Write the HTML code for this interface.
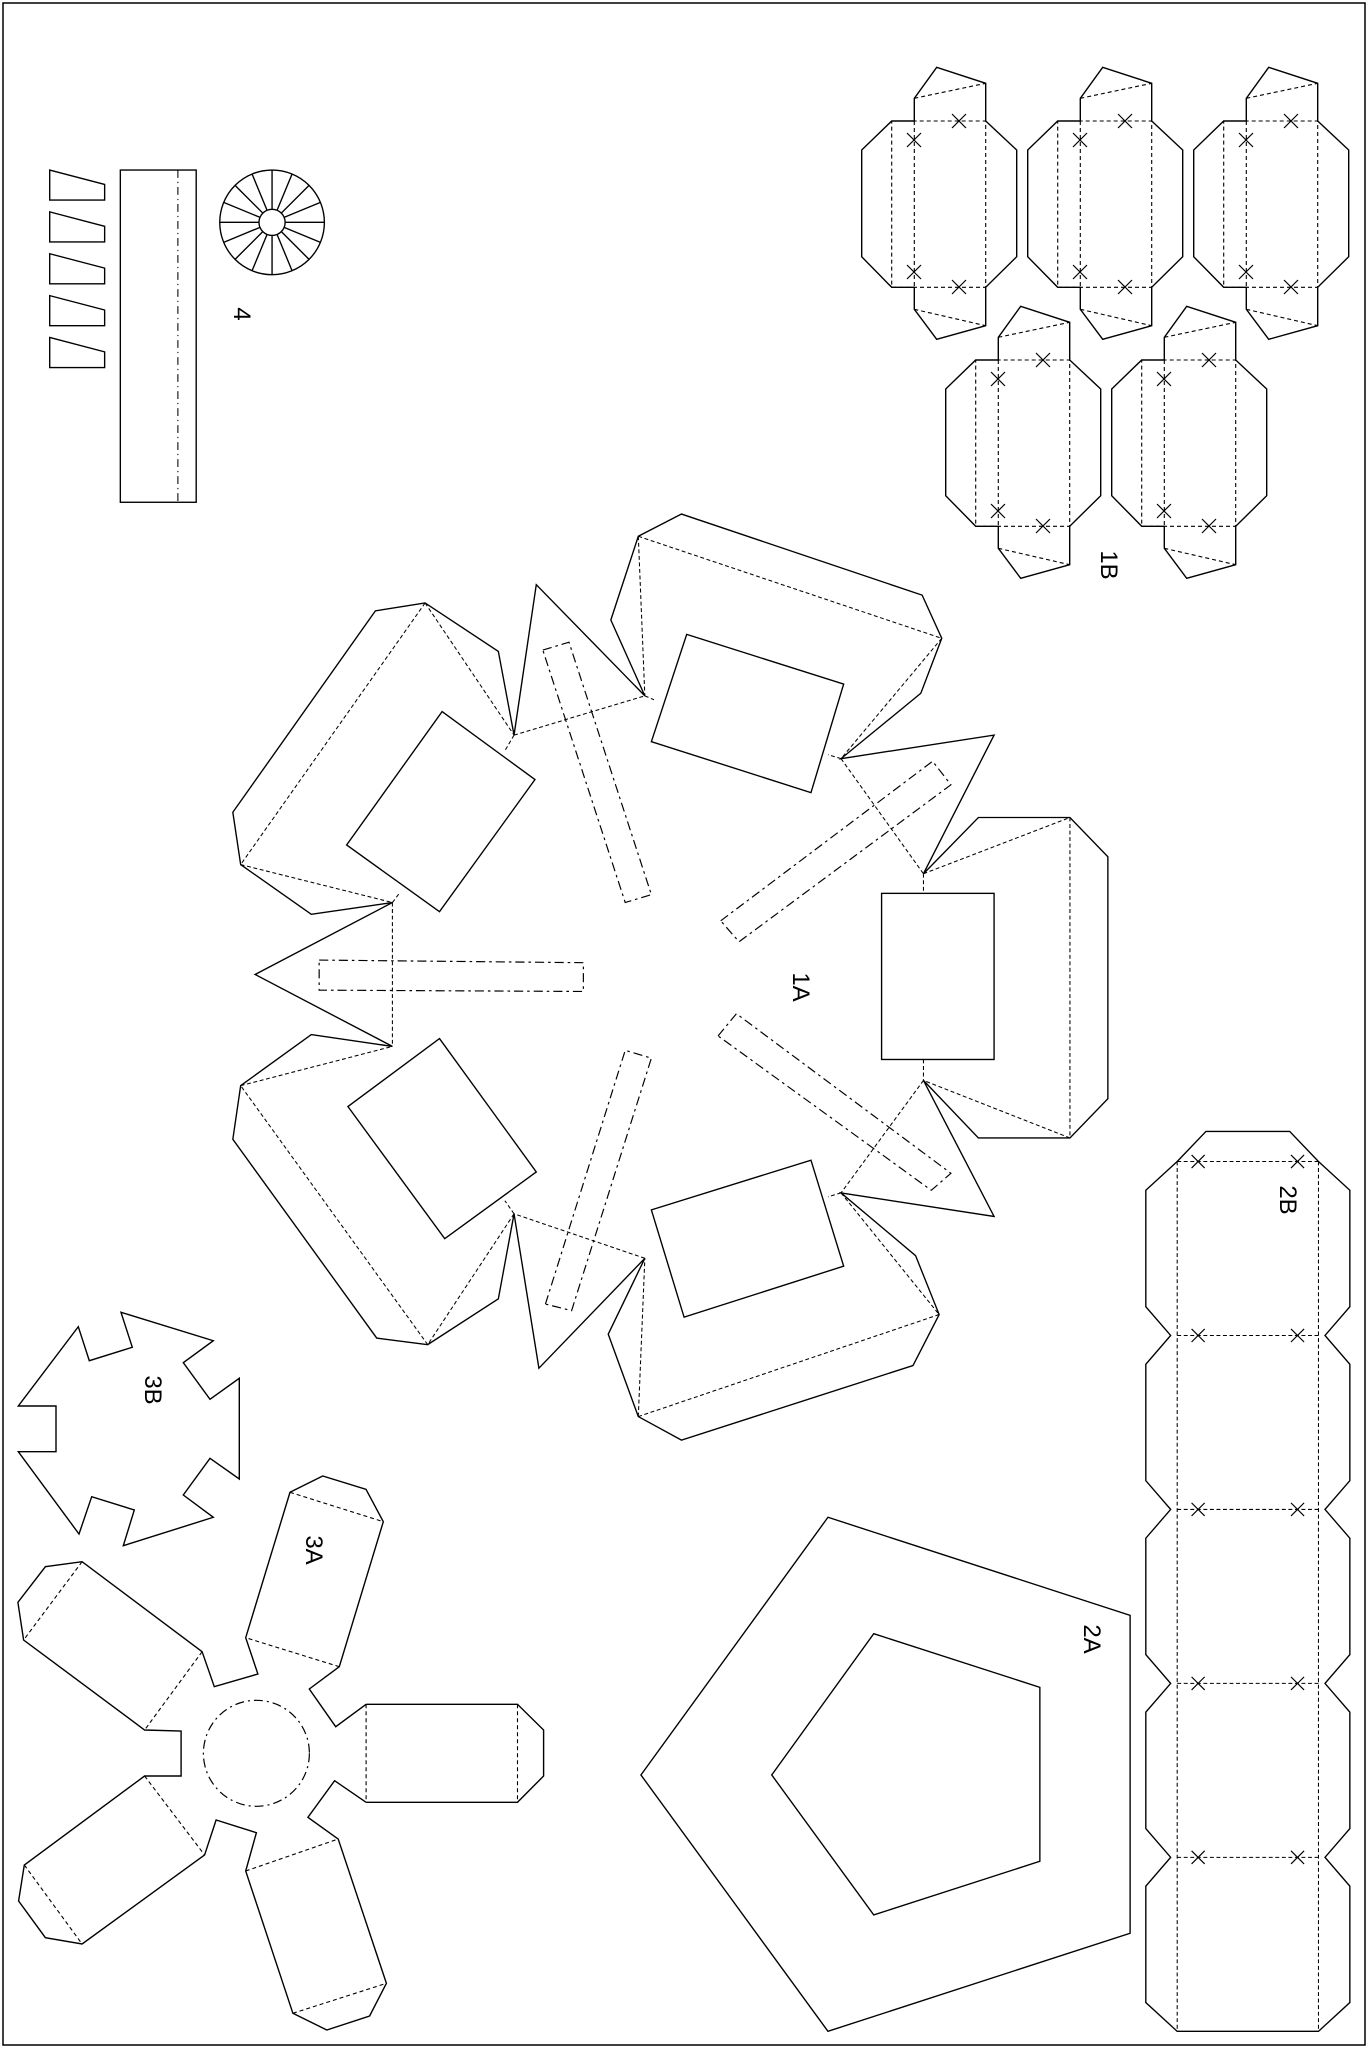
<!DOCTYPE html>
<html><head><meta charset="utf-8"><style>html,body{margin:0;padding:0;background:#fff}svg{display:block}</style></head>
<body>
<svg xmlns="http://www.w3.org/2000/svg" width="1368" height="2048" viewBox="0 0 1368 2048">
<defs>
<g id="b1" fill="none" stroke="#000">
<polygon stroke-width="1.4" points="914.3,121 914.3,98.3 936.7,67.3 985.7,83.3 985.7,121 1016.7,150 1016.7,256.7 985.7,287.3 985.7,325.7 936.7,339.3 914.3,309.3 914.3,287.3 891.7,287.3 861.7,256.7 861.7,150 891.7,121"/>
<g stroke-width="1.1" stroke-dasharray="4,3">
<rect x="891.7" y="121" width="94" height="166.3"/>
<line x1="914.3" y1="121" x2="914.3" y2="287.3"/>
<line x1="914.3" y1="98.3" x2="985.7" y2="83.3"/>
<line x1="914.3" y1="309.3" x2="985.7" y2="325.7"/>
</g>
<g stroke-width="1.2">
<path d="M907,133l14,14M921,133l-14,14M952,114l14,14M966,114l-14,14M907,265l14,14M921,265l-14,14M952,280l14,14M966,280l-14,14"/>
</g>
</g>
</defs>
<rect x="3" y="3" width="1362" height="2042" fill="none" stroke="#000" stroke-width="1.5"/>

<!-- 1B -->
<use href="#b1"/>
<use href="#b1" transform="translate(166,0)"/>
<use href="#b1" transform="translate(332,0)"/>
<use href="#b1" transform="translate(84,239)"/>
<use href="#b1" transform="translate(250,239)"/>

<!-- 3B -->
<polygon fill="none" stroke="#000" stroke-width="1.4" points="121,1312.3 213.3,1340.7 183.3,1362.7 210,1399.3 239.3,1378.3 239.3,1479 210,1458.3 183.3,1495 213.3,1517.3 123.3,1545.7 134.3,1510 91.7,1496.7 79,1534 18.3,1451.7 56,1451.7 56,1406 18.3,1406 78.3,1326.7 89.3,1360.7 132.3,1347.3"/>

<!-- 3A -->
<g fill="none" stroke="#000" stroke-width="1.4">
<polyline points="366.1,1704.3 517.5,1704.3 543.6,1730 543.6,1776 517.5,1802.3 366.1,1802.3"/>
<polyline points="366.1,1704.3 335.7,1726.7 309.3,1689 339.3,1666.7 383.3,1521.7 366,1489.3 322.7,1476 290,1492.3 245.7,1637.7 257.9,1674 214.3,1686.7 202.1,1651.7 82.1,1561.7 45.4,1566.7 17.9,1602.3 23.6,1640 144.6,1730 181.1,1731 181.1,1776 144.6,1776 24.3,1865 18.6,1901 45.4,1937.7 82.1,1944 204.6,1855 216.1,1820 256.4,1832.7 245.7,1871 292.9,2013.3 326.8,2030 369.6,2016 386.4,1983.3 338.2,1839 307.9,1817.3 334.6,1780.7 366.1,1802.3"/>
<g stroke-width="1.1" stroke-dasharray="4,3">
<line x1="366.1" y1="1704.3" x2="366.1" y2="1802.3"/><line x1="517.5" y1="1704.3" x2="517.5" y2="1802.3"/>
<line x1="339.3" y1="1666.7" x2="245.7" y2="1637.7"/><line x1="290" y1="1492.3" x2="383.3" y2="1521.7"/>
<line x1="202.1" y1="1651.7" x2="144.6" y2="1730"/><line x1="82.1" y1="1561.7" x2="23.6" y2="1640"/>
<line x1="144.6" y1="1776" x2="204.6" y2="1855"/><line x1="24.3" y1="1865" x2="82.1" y2="1944"/>
<line x1="245.7" y1="1871" x2="338.2" y2="1839"/><line x1="292.9" y1="2013.3" x2="386.4" y2="1983.3"/>
</g>
<circle cx="256.4" cy="1753.3" r="53" stroke-width="1.2" stroke-dasharray="9,4,2,4"/>
</g>

<!-- scaled display-coord content -->
<g transform="scale(1.308)" fill="none" stroke="#000" stroke-width="1.05">
<!-- part 4 -->
<polygon points="38,130 80,141 80,153 38,153"/>
<polygon points="38,162 80,173 80,185 38,185"/>
<polygon points="38,194 80,205 80,217 38,217"/>
<polygon points="38,226 80,237 80,249 38,249"/>
<polygon points="38,258 80,269 80,281 38,281"/>
<rect x="92" y="130" width="58" height="254"/>
<line x1="136" y1="130" x2="136" y2="384" stroke-dasharray="6,3,1,3" stroke-width="0.8"/>
<circle cx="208" cy="170" r="40"/>
<circle cx="208" cy="170" r="10"/>
<path d="M208,160V130M208,180V210M198,170H168M218,170H248M215.1,162.9L236.3,141.7M200.9,177.1L179.7,198.3M200.9,162.9L179.7,141.7M215.1,177.1L236.3,198.3M211.8,160.8L223.3,133M204.2,179.2L192.7,207M204.2,160.8L192.7,133M211.8,179.2L223.3,207M217.2,166.2L245,154.7M198.8,173.8L171,185.3M198.8,166.2L171,154.7M217.2,173.8L245,185.3"/>

<!-- 1A outlines -->
<polyline points="493,532 410,447 393,562 381,498 325,461 287,467 178,621 184,661 238,699 300,690 195,745 300,800 238,791 184,830 178,871 288,1023 327,1028 381,993 393,928 412,1046 493,962 465,1020 488,1083 521,1101 698,1044 718,1005 700,960 643,912 760,930 706,826 748,870 818,870 847,840 847,655 818,625 748,625 706,668 760,562 643,580 704,530 720,488 705,455 521,393 488,410 467,474 493,532"/>
<polygon points="338,544 409,596 336,697 265,646"/>
<polygon points="525,485 645,523 620,606 498,567"/>
<rect x="674" y="683" width="86" height="127"/>
<polygon points="498,925 620,887 645,968 523,1007"/>
<polygon points="336,794 410,896 340,947 266,846"/>
<g stroke-width="0.8" stroke-dasharray="3,2">
<path d="M325,461L184,661M325,461L393,562M184,661L300,690M393,562L493,532M300,690L300,800M488,410L493,532M488,410L720,488M720,488L643,580M643,580L706,668M706,668L818,625M818,625L818,870M818,870L706,826M706,668V683M706,810V826M706,826L643,912M643,912L718,1005M718,1005L488,1083M488,1083L493,962M493,962L393,928M393,928L327,1028M327,1028L184,830M184,830L300,800M393,562L386,574M300,690L306,682M493,532L500,535M643,580L633,577M643,912L633,915M393,928L386,918"/>
</g>
<g stroke-width="0.9" stroke-dasharray="7,3,2,3">
<polygon points="415,497 435,491 498,684 478,690"/>
<polygon points="551,704 713,582 727,600 565,720"/>
<polygon points="244,734 446,736 446,758 244,757"/>
<polygon points="549,792 563,775 727,897 712,910"/>
<polygon points="417,997 478,803 498,809 437,1002"/>
</g>

<!-- 2A -->
<polygon points="633,1160 864,1235 864,1478 633,1553 490,1357"/>
<polygon points="668,1249 795,1290 795,1423 668,1464 590,1357"/>

<!-- 2B -->
<polyline points="900,888 922,865 986,865 1008,888"/>
<path d="M900,888L876,910V999L895,1021L876,1043V1132L895,1154L876,1176V1265L895,1287L876,1309V1398L895,1420L876,1442V1531L900,1553H1008L1032,1531V1442L1013,1420L1032,1398V1309L1013,1287L1032,1265V1176L1013,1154L1032,1132V1043L1013,1021L1032,999V910L1008,888"/>
<g stroke-width="0.8" stroke-dasharray="3,2">
<path d="M900,888H1008M900,1021H1008M900,1154H1008M900,1287H1008M900,1420H1008M900,888V1553M1008,888V1553"/>
</g>
<path stroke-width="0.9" d="M911,883l10,10M921,883l-10,10M987,883l10,10M997,883l-10,10M911,1016l10,10M921,1016l-10,10M987,1016l10,10M997,1016l-10,10M911,1149l10,10M921,1149l-10,10M987,1149l10,10M997,1149l-10,10M911,1282l10,10M921,1282l-10,10M987,1282l10,10M997,1282l-10,10M911,1415l10,10M921,1415l-10,10M987,1415l10,10M997,1415l-10,10"/>
</g>

<g font-family="Liberation Sans, sans-serif" font-size="24" fill="#000" text-anchor="middle">
<text transform="translate(234,314) rotate(90)">4</text>
<text transform="translate(1101,565) rotate(90)">1B</text>
<text transform="translate(793,987) rotate(90)">1A</text>
<text transform="translate(1280,1200) rotate(90)">2B</text>
<text transform="translate(1084,1639) rotate(90)">2A</text>
<text transform="translate(145,1390) rotate(90)">3B</text>
<text transform="translate(306,1550) rotate(90)">3A</text>
</g>
</svg>
</body></html>
